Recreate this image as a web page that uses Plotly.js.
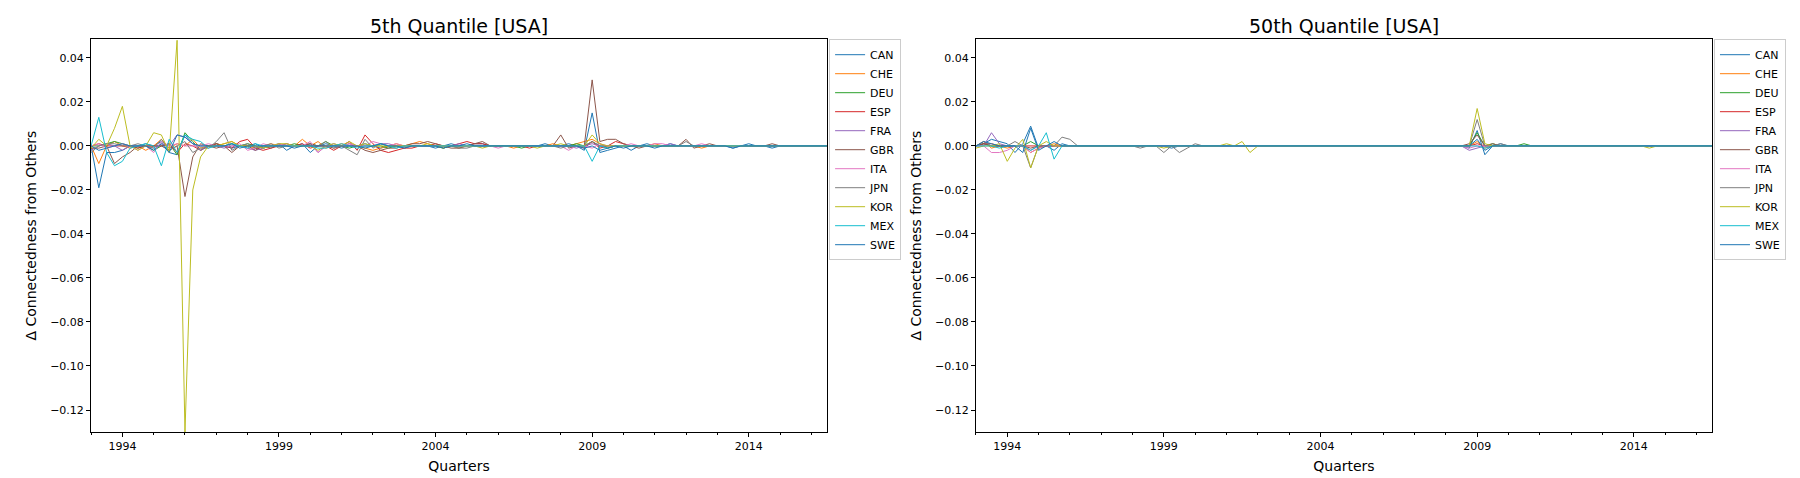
<!DOCTYPE html>
<html>
<head>
<meta charset="utf-8">
<script src="https://cdn.plot.ly/plotly-3.0.1.min.js"></script>
<style>body{margin:0;background:#fff}#chart{width:1800px;height:478px}</style>
</head>
<body>
<div id="chart"></div>
<script>
// quarterly observations 1993Q1 .. 2016Q3, values in thousandths
const countries = ["CAN", "CHE", "DEU", "ESP", "FRA", "GBR", "ITA", "JPN", "KOR", "MEX", "SWE"];
const colors = ["#1f77b4", "#ff7f0e", "#2ca02c", "#d62728", "#9467bd", "#8c564b", "#e377c2", "#7f7f7f", "#bcbd22", "#17becf", "#1f77b4"];
const titles = ["5th Quantile [USA]", "50th Quantile [USA]"];
const startYear = 1993;
const tickYears = [1994, 1999, 2004, 2009, 2014];

const q5 = {
  CAN: [0,-19,-3,-3,-2,0,0,1,0,2,-3,-4,5,1,0,0,1,0,-1,0, 0,1,-1,0,1,-2,0,1,-3,0,1,0,-1,0,0,1,0,-1,0,0, -1,0,0,0,-1,0,1,0,0,1,1,0,0,0,0,0,0,0,1,0, 0,1,0,-2,15,-3,-2,-1,0,-2,0,1,0,0,1,0,0,0,0,0, 0,0,-1,0,1,0,0,-1,0,0,0,0,0,0,0],
  CHE: [0,-8,0,2,0,-1,0,-2,0,3,-1,1,0,3,-1,0,0,1,2,0, 0,-1,0,1,0,1,0,3,0,2,-1,0,1,0,0,-1,-2,-1,0,1, 0,1,2,1,0,-1,0,-1,0,0,0,0,0,0,-1,0,0,0,0,1, 0,0,1,2,3,1,-1,0,0,0,0,0,1,0,0,0,0,0,-1,0, 0,0,0,0,0,0,0,0,0,0,0,0,0,0,0],
  DEU: [0,0,1,2,1,0,-1,0,-2,0,1,-4,6,2,-2,0,1,0,1,0, 1,0,-1,0,0,0,1,0,1,0,2,0,0,-1,0,0,0,0,-1,0, 0,0,0,0,0,-1,0,0,0,0,0,0,0,0,0,-1,0,0,0,0, 0,0,1,0,2,0,-1,0,0,0,0,0,0,0,0,0,0,0,0,0, 0,0,0,0,0,0,0,0,0,0,0,0,0,0,0],
  ESP: [0,1,0,0,0,0,-1,0,0,0,1,-3,1,0,-2,0,1,0,-1,2, 3,-1,-2,-1,0,0,0,1,-1,0,0,-2,0,2,-2,5,1,-2,-3,-2, -1,-1,0,0,1,0,0,1,2,1,1,0,0,0,0,0,-1,0,0,0, 0,0,0,-1,2,-1,0,2,1,0,0,0,0,0,0,0,0,0,0,0, 0,0,0,0,0,0,0,0,0,0,0,0,0,0,0],
  FRA: [-2,0,1,0,-2,0,0,0,-1,1,0,5,4,1,-2,0,0,-1,0,0, -1,-2,-1,0,0,1,0,0,1,-3,0,1,0,0,0,0,0,1,1,0, 0,0,0,0,0,0,0,1,0,0,0,0,0,0,0,0,0,0,0,0, 0,0,-1,0,1,0,0,0,0,0,0,0,0,0,1,0,0,0,0,0, 0,0,0,0,0,0,0,0,0,0,0,0,0,0,0],
  GBR: [-1,-1,0,-8,-5,-3,0,0,0,0,-2,0,-23,-5,1,0,-1,0,-3,0, 0,-2,0,-1,1,0,0,0,1,0,0,-1,0,1,0,-2,-3,-2,-1,-1, 0,1,1,2,1,0,-1,-1,0,1,2,0,0,0,0,0,0,0,0,0, 5,-1,0,0,30,2,3,3,1,0,-1,0,0,0,0,0,3,-1,0,1, 0,0,0,0,0,0,0,1,0,0,0,0,0,0,0],
  ITA: [0,1,-1,0,1,0,-2,0,-3,2,0,1,0,0,0,1,0,0,0,1, -2,-1,1,0,1,0,0,0,2,-3,0,0,0,1,0,0,2,1,0,1, 0,0,0,0,0,0,0,0,0,0,0,0,-1,0,0,0,0,0,0,0, 0,-2,0,0,-1,1,0,0,0,1,0,0,1,1,0,0,0,0,1,0, 0,0,0,0,0,0,0,0,0,0,0,0,0,0,0],
  JPN: [-3,0,1,1,0,0,1,0,-1,3,-2,0,2,-3,-1,-1,2,6,-2,0, 1,-1,0,1,-1,0,0,0,0,0,2,-1,0,-2,-4,3,-1,1,0,0, 0,0,0,0,0,0,0,-1,-1,0,0,0,0,0,0,0,0,0,0,0, -1,0,0,0,2,0,0,0,0,0,0,0,0,0,0,0,2,0,0,0, 0,0,0,0,0,0,0,0,0,0,0,0,0,0,0],
  KOR: [-1,3,0,8,18,0,-2,0,6,5,-3,48,-130,-20,-5,0,0,1,2,0, 0,0,-1,0,1,1,0,0,0,-2,0,1,0,2,0,1,0,0,0,0, 0,0,0,1,0,0,0,0,0,0,-1,0,0,0,0,0,0,-1,0,0, 1,0,0,0,5,1,0,0,0,0,0,0,0,0,0,0,0,0,0,0, 0,0,0,0,0,0,0,0,0,0,0,0,0,0,0],
  MEX: [0,13,-3,-9,-7,-1,0,1,0,-9,3,-3,5,3,2,-1,0,0,1,0, -1,1,0,0,0,0,0,0,0,-1,-1,0,1,0,-1,0,0,1,0,-1, 0,0,0,0,0,0,0,0,0,0,0,0,0,0,0,0,0,0,0,0, 0,0,0,0,-7,0,-1,0,0,0,0,0,0,0,0,0,0,0,0,0, 0,0,0,0,0,0,0,0,0,0,0,0,0,0,0],
  SWE: [0,-2,-1,0,1,0,0,0,-2,1,-3,5,4,1,0,0,0,0,1,-1, 0,0,0,0,0,0,-1,0,0,0,0,0,0,0,0,-1,0,1,0,0, -1,0,0,0,0,-1,0,0,1,0,0,0,0,0,0,0,0,0,0,0, 0,0,0,-1,0,-2,-1,0,-1,0,0,0,-1,0,0,0,0,0,0,0, 0,0,-1,0,0,0,0,0,0,0,0,0,0,0,0]
};

const q50 = {
  CAN: [0,1,3,2,1,-3,1,9,-1,0,-2,1,0,0,0,0,0,0,0,0, 0,0,0,0,0,-1,0,0,0,0,0,0,0,0,0,0,0,0,0,0, 0,0,0,0,0,0,0,0,0,0,0,0,0,0,0,0,0,0,0,0, 0,0,0,-1,7,-4,0,1,0,0,0,0,0,0,0,0,0,0,0,0, 0,0,0,0,0,0,0,0,0,0,0,0,0,0,0],
  CHE: [0,2,-1,0,-1,0,0,-3,-1,0,1,0,0,0,0,0,0,0,0,0, 0,0,0,0,0,0,0,0,0,0,0,0,0,0,0,0,0,0,0,0, 0,0,0,0,0,0,0,0,0,0,0,0,0,0,0,0,0,0,0,0, 0,0,0,0,2,-1,0,0,0,0,0,0,0,0,0,0,0,0,0,0, 0,0,0,0,0,0,0,0,0,0,0,0,0,0,0],
  DEU: [0,1,0,0,0,0,0,2,0,0,0,0,0,0,0,0,0,0,0,0, 0,0,0,0,0,0,0,0,0,0,0,0,0,0,0,0,0,0,0,0, 0,0,0,0,0,0,0,0,0,0,0,0,0,0,0,0,0,0,0,0, 0,0,0,0,6,0,1,0,0,0,1,0,0,0,0,0,0,0,0,0, 0,0,0,0,0,0,0,0,0,0,0,0,0,0,0],
  ESP: [0,1,1,0,0,0,0,0,0,0,0,0,0,0,0,0,0,0,0,0, 0,0,0,0,0,0,0,0,0,0,0,0,0,0,0,0,0,0,0,0, 0,0,0,0,0,0,0,0,0,0,0,0,0,0,0,0,0,0,0,0, 0,0,0,0,1,0,0,0,0,0,0,0,0,0,0,0,0,0,0,0, 0,0,0,0,0,0,0,0,0,0,0,0,0,0,0],
  FRA: [0,0,6,1,0,0,0,-2,0,0,0,0,0,0,0,0,0,0,0,0, 0,0,0,0,0,0,0,0,0,0,0,0,0,0,0,0,0,0,0,0, 0,0,0,0,0,0,0,0,0,0,0,0,0,0,0,0,0,0,0,0, 0,0,0,-2,-1,0,0,0,0,0,0,0,0,0,0,0,0,0,0,0, 0,0,0,0,0,0,0,0,0,0,0,0,0,0,0],
  GBR: [0,1,0,0,0,0,0,-1,0,0,0,0,0,0,0,0,0,0,0,0, 0,0,0,0,0,0,0,0,0,0,0,0,0,0,0,0,0,0,0,0, 0,0,0,0,0,0,0,0,0,0,0,0,0,0,0,0,0,0,0,0, 0,0,0,1,5,0,1,0,0,0,0,0,0,0,0,0,0,0,0,0, 0,0,0,0,0,0,0,0,0,0,0,0,0,0,0],
  ITA: [0,0,-3,-3,-2,0,0,-3,-1,0,0,0,0,0,0,0,0,0,0,0, 0,0,0,0,0,0,0,0,0,0,0,0,0,0,0,0,0,0,0,0, 0,0,0,0,0,0,0,0,0,0,0,0,0,0,0,0,0,0,0,0, 0,0,0,-1,0,0,0,0,0,0,0,0,0,0,0,0,0,0,0,0, 0,0,0,0,0,0,0,0,0,0,0,0,0,0,0],
  JPN: [0,2,0,0,0,2,0,-10,0,0,0,4,3,0,0,0,0,0,0,0, 0,-1,0,0,-3,0,-3,-1,1,0,0,0,0,0,0,0,0,0,0,0, 0,0,0,0,0,0,0,0,0,0,0,0,0,0,0,0,0,0,0,0, 0,0,0,0,12,0,0,1,0,0,0,0,0,0,0,0,0,0,0,0, 0,0,0,0,0,0,0,0,0,0,0,0,0,0,0],
  KOR: [-1,0,0,1,-7,-1,3,-10,0,2,0,0,0,0,0,0,0,0,0,0, 0,0,0,0,-1,0,0,0,0,0,0,0,1,0,2,-3,0,0,0,0, 0,0,0,0,0,0,0,0,0,0,0,0,0,0,0,0,0,0,0,0, 0,0,0,0,17,1,0,0,0,0,0,0,0,0,0,0,0,0,0,0, 0,0,0,0,0,0,-1,0,0,0,0,0,0,0,0],
  MEX: [0,0,0,-1,0,0,0,-2,0,6,-6,0,0,0,0,0,0,0,0,0, 0,0,0,0,0,0,0,0,0,0,0,0,0,0,0,0,0,0,0,0, 0,0,0,0,0,0,0,0,0,0,0,0,0,0,0,0,0,0,0,0, 0,0,0,0,0,-1,0,0,0,0,0,0,0,0,0,0,0,0,0,0, 0,0,0,0,0,0,0,0,0,0,0,0,0,0,0],
  SWE: [0,2,1,0,0,0,-3,8,-2,0,2,0,0,0,0,0,0,0,0,0, 0,0,0,0,0,0,0,0,0,0,0,0,0,0,0,0,0,0,0,0, 0,0,0,0,0,0,0,0,0,0,0,0,0,0,0,0,0,0,0,0, 0,0,0,0,3,-2,0,0,0,0,0,0,0,0,0,0,0,0,0,0, 0,0,0,0,0,0,0,0,0,0,0,0,0,0,0]
};

const nQ = q5.CAN.length;
const quarters = [];
for (let i = 0; i < nQ; i++) {
  const y = startYear + Math.floor(i / 4);
  const m = String((i % 4) * 3 + 1).padStart(2, "0");
  quarters.push(`${y}-${m}-01`);
}

const font = { family: "DejaVu Sans", color: "#000" };
const traces = [];
[q5, q50].forEach((panel, p) => {
  countries.forEach((c, k) => {
    traces.push({
      x: quarters,
      y: panel[c].map((v) => v / 1000),
      type: "scatter",
      mode: "lines",
      name: c,
      line: { color: colors[k], width: 1 },
      xaxis: p === 0 ? "x" : "x2",
      yaxis: p === 0 ? "y" : "y2",
      legend: p === 0 ? "legend" : "legend2",
    });
  });
});

function xAxis(domain, anchor) {
  return {
    domain: domain, anchor: anchor, type: "date",
    range: [quarters[0], quarters[nQ - 1]],
    tickvals: tickYears.map((y) => `${y}-01-01`),
    ticktext: tickYears.map(String),
    ticks: "outside", ticklen: 4, tickcolor: "#000",
    minor: { dtick: "M12", tick0: "1993-01-01", ticks: "outside", ticklen: 2, tickcolor: "#000" },
    showgrid: false, zeroline: false,
    showline: true, mirror: true, linecolor: "#000", linewidth: 1,
    tickfont: { ...font, size: 11 },
    title: { text: "Quarters", font: { ...font, size: 14 }, standoff: 8 },
  };
}
function yAxis(anchor) {
  return {
    domain: [0.0962, 0.918], anchor: anchor,
    range: [-0.13, 0.0485], dtick: 0.02, tick0: 0, tickformat: ".2f",
    ticks: "outside", ticklen: 4, tickcolor: "#000",
    showgrid: false, zeroline: false,
    showline: true, mirror: true, linecolor: "#000", linewidth: 1,
    tickfont: { ...font, size: 11 },
    title: { text: "Δ Connectedness from Others", font: { ...font, size: 14 }, standoff: 10 },
  };
}
const legendStyle = {
  y: 0.918, yanchor: "top", xanchor: "left",
  bgcolor: "rgba(255,255,255,0.8)", bordercolor: "#ccc", borderwidth: 1,
  font: { ...font, size: 11 }, tracegroupgap: 0, itemwidth: 30,
};

const layout = {
  width: 1800, height: 478,
  margin: { l: 0, r: 0, t: 0, b: 0 },
  paper_bgcolor: "#fff", plot_bgcolor: "#fff",
  showlegend: true,
  xaxis: xAxis([0.0506, 0.4594], "y"),
  yaxis: yAxis("x"),
  xaxis2: xAxis([0.5422, 0.9511], "y2"),
  yaxis2: yAxis("x2"),
  legend: { ...legendStyle, x: 0.4606 },
  legend2: { ...legendStyle, x: 0.9522 },
  annotations: titles.map((t, i) => ({
    text: t, xref: "paper", yref: "paper",
    x: i === 0 ? 0.255 : 0.7467, y: 0.945, xanchor: "center", yanchor: "middle",
    showarrow: false, font: { ...font, size: 19 },
  })),
};

Plotly.newPlot("chart", traces, layout, { displayModeBar: false, staticPlot: true });
</script>
</body>
</html>
